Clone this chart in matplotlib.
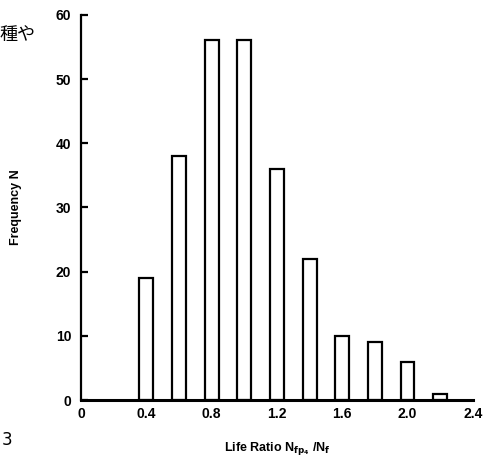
import matplotlib
matplotlib.use("Agg")
import matplotlib.pyplot as plt

ratio_centers = [0.4, 0.6, 0.8, 1.0, 1.2, 1.4, 1.6, 1.8, 2.0, 2.2]
frequency = [19, 38, 56, 56, 36, 22, 10, 9, 6, 1]
xticks = [0, 0.4, 0.8, 1.2, 1.6, 2.0, 2.4]
xtick_labels = ["0", "0.4", "0.8", "1.2", "1.6", "2.0", "2.4"]
yticks = [0, 10, 20, 30, 40, 50, 60]

plt.rcParams['font.family'] = ['Liberation Sans Narrow', 'Liberation Sans', 'DejaVu Sans']
plt.rcParams['mathtext.fontset'] = 'custom'
plt.rcParams['mathtext.rm'] = 'Liberation Sans Narrow:bold'
plt.rcParams['mathtext.bf'] = 'Liberation Sans Narrow:bold'

fig = plt.figure(figsize=(4.91, 4.63), dpi=100)
ax = fig.add_axes([0.165, 0.136, 0.798, 0.832])

ax.bar(ratio_centers, frequency, width=0.085, facecolor='white', edgecolor='black', linewidth=1.6)

ax.set_xlim(0, 2.4)
ax.set_ylim(0, 60)
ax.spines['top'].set_visible(False)
ax.spines['right'].set_visible(False)
ax.spines['left'].set_linewidth(1.6)
ax.spines['bottom'].set_linewidth(2.2)

ax.set_yticks(yticks)
ax.set_yticklabels([str(v) for v in yticks], fontsize=10, fontweight='bold')
ax.tick_params(axis='y', direction='in', length=5, width=1.6, pad=7)
ax.set_xticks(xticks)
ax.set_xticklabels(xtick_labels, fontsize=10, fontweight='bold')
ax.tick_params(axis='x', length=0, pad=5)

ax.set_ylabel("Frequency N", fontsize=9, fontweight='bold', labelpad=24)
ax.set_xlabel(r"Life Ratio N$_{\mathbf{fp_4}}$ /N$_{\mathbf{f}}$", fontsize=9, fontweight='bold', labelpad=14)

fig.text(0.0, 0.925, "種や", fontsize=13, family=['Noto Sans CJK JP', 'DejaVu Sans'], va='center', ha='left')
fig.text(0.004, 0.05, "3", fontsize=12, family=['DejaVu Sans'], va='center', ha='left')

fig.savefig("out.png", dpi=100)
